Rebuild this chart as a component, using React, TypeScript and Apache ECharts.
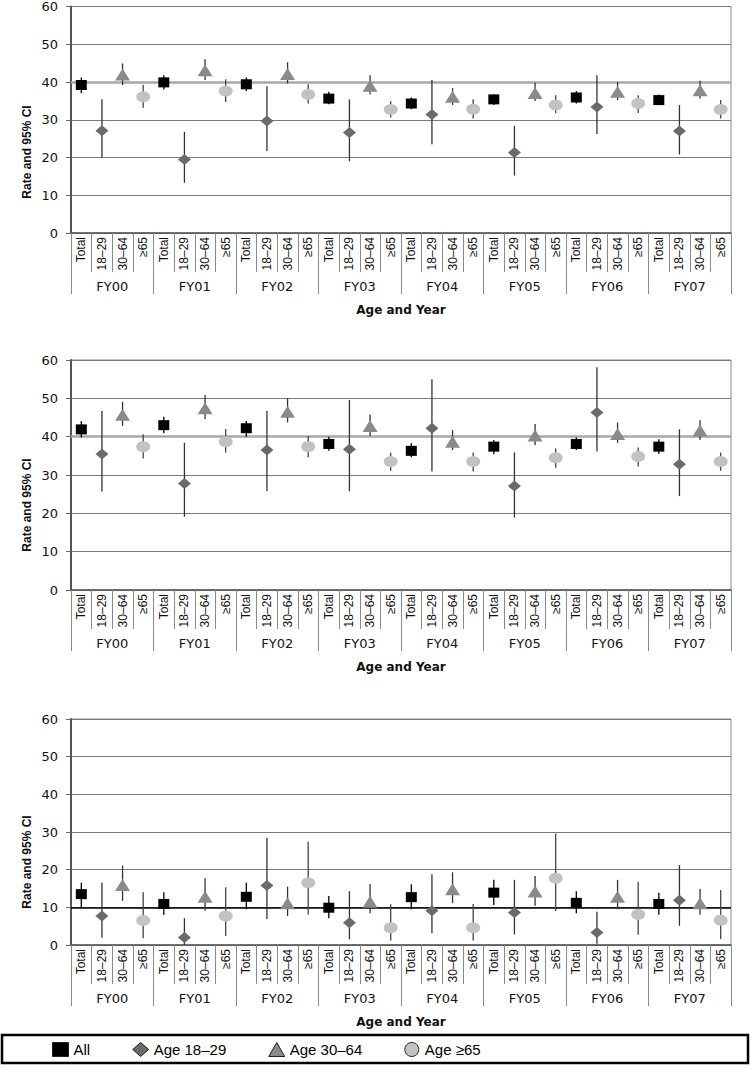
import React, { useEffect, useRef } from "react";
import * as echarts from "echarts";

const FY = ["FY00", "FY01", "FY02", "FY03", "FY04", "FY05", "FY06", "FY07"];
const AGE_CATS = ["Total", "18–29", "30–64", "≥65"];
const CATEGORIES = FY.flatMap(() => AGE_CATS);
const SERIES_NAMES = ["All", "Age 18–29", "Age 30–64", "Age ≥65"];
const Y_TICKS = [0, 10, 20, 30, 40, 50, 60];

// [rate, lower CI, upper CI] per fiscal year
const p1All = [[39.2, 37.0, 41.2], [39.9, 38.0, 41.8], [39.4, 37.6, 41.2], [35.6, 34.1, 37.4], [34.3, 32.8, 35.9], [35.4, 33.9, 36.7], [35.9, 34.3, 37.6], [35.2, 33.9, 36.7]];
const p1Young = [[27.1, 20.0, 35.4], [19.5, 13.3, 26.8], [29.7, 21.7, 38.9], [26.6, 19.0, 35.4], [31.4, 23.5, 40.5], [21.3, 15.2, 28.4], [33.4, 26.2, 41.8], [27.0, 20.8, 33.9]];
const p1Mid = [[42.0, 39.2, 44.9], [43.1, 40.5, 46.0], [42.1, 39.6, 45.2], [39.0, 36.7, 41.8], [36.1, 33.9, 38.4], [37.1, 35.0, 39.8], [37.4, 35.2, 40.0], [37.8, 35.6, 40.3]];
const p1Old = [[36.1, 33.2, 39.3], [37.6, 34.7, 40.7], [36.7, 34.3, 39.4], [32.7, 30.6, 34.9], [32.8, 30.3, 35.4], [33.9, 31.7, 36.5], [34.3, 31.8, 36.5], [32.7, 30.3, 35.2]];

const p2All = [[41.9, 39.8, 44.1], [43.0, 40.9, 45.2], [42.2, 40.0, 44.1], [38.1, 36.3, 40.0], [36.3, 34.6, 38.3], [37.4, 35.4, 39.1], [38.1, 36.5, 39.8], [37.4, 35.5, 39.3]];
const p2Young = [[35.5, 25.7, 46.7], [27.8, 19.1, 38.4], [36.5, 25.8, 46.7], [36.7, 25.8, 49.6], [42.2, 30.9, 55.0], [27.1, 18.9, 35.9], [46.3, 36.1, 58.1], [32.8, 24.5, 41.9]];
const p2Mid = [[45.7, 42.8, 49.1], [47.4, 44.6, 50.9], [46.5, 43.7, 50.0], [42.8, 40.2, 45.8], [38.7, 36.5, 41.7], [40.3, 37.8, 43.3], [40.7, 38.4, 43.7], [41.6, 39.1, 44.3]];
const p2Old = [[37.4, 34.3, 40.6], [38.7, 35.9, 42.0], [37.4, 34.6, 40.2], [33.5, 31.1, 35.8], [33.5, 30.9, 35.9], [34.5, 31.9, 37.0], [34.8, 32.2, 37.2], [33.5, 31.1, 35.9]];

const p3All = [[13.5, 10.0, 16.5], [10.9, 8.0, 14.0], [12.8, 9.5, 16.5], [9.9, 7.1, 13.0], [12.7, 9.5, 16.1], [13.9, 10.6, 17.3], [11.2, 8.4, 14.3], [10.9, 8.0, 13.9]];
const p3Young = [[7.7, 1.9, 16.6], [2.0, 0.0, 7.1], [15.8, 6.9, 28.5], [5.9, 1.5, 14.3], [9.1, 3.1, 18.8], [8.6, 2.8, 17.3], [3.3, 0.3, 8.8], [11.9, 5.1, 21.2]];
const p3Mid = [[15.9, 11.7, 21.1], [12.8, 9.1, 17.7], [11.1, 7.7, 15.5], [11.5, 8.4, 16.2], [14.8, 11.1, 19.3], [14.2, 10.4, 18.3], [12.8, 9.5, 17.3], [11.1, 8.0, 14.9]];
const p3Old = [[6.5, 1.8, 14.0], [7.7, 2.4, 15.3], [16.5, 8.1, 27.4], [4.6, 1.2, 10.8], [4.6, 1.2, 10.9], [17.7, 9.0, 29.6], [8.1, 2.7, 16.8], [6.6, 1.6, 14.6]];

// reference lines per panel
const REF_LINES = [40, 40, 10];

const PANELS = [
  [p1All, p1Young, p1Mid, p1Old],
  [p2All, p2Young, p2Mid, p2Old],
  [p3All, p3Young, p3Mid, p3Old],
];

const GRID_TOPS = [6, 360, 719];
const GRID_HEIGHTS = [227, 230, 226];
const Y_TITLE_CENTERS = [152, 505, 862];
const REF_STYLES = [
  { color: "#a8a8a8", width: 2.5 },
  { color: "#a8a8a8", width: 2.5 },
  { color: "#000000", width: 1.5 },
];

const SYMBOLS = ["rect", "diamond", "triangle", "circle"];
const SYMBOL_SIZES = [[11, 10], [13, 11], [15, 12], [14, 11]];
const COLORS = ["#000000", "#6a6a6a", "#8a8a8a", "#c2c2c2"];
const BAR_COLORS = ["#000000", "#333333", "#333333", "#444444"];

const LABEL_FONT = "'Liberation Sans', Arial, sans-serif";
const WIDE_FONT = "'DejaVu Sans', sans-serif";

function buildOption() {
  const grid: any[] = [];
  const xAxis: any[] = [];
  const yAxis: any[] = [];
  const series: any[] = [];
  const graphic: any[] = [];

  PANELS.forEach((panel, p) => {
    grid.push({
      left: 71,
      width: 660,
      top: GRID_TOPS[p],
      height: GRID_HEIGHTS[p],
      show: true,
      borderColor: "#8a8a8a",
      borderWidth: 1,
      backgroundColor: "transparent",
    });
    xAxis.push({
      type: "category",
      gridIndex: p,
      data: CATEGORIES,
      boundaryGap: true,
      position: "bottom",
      axisLine: { show: true, lineStyle: { color: "#555", width: 1.5 } },
      axisTick: { show: true, interval: 0, length: 39, lineStyle: { color: "#8a8a8a", width: 1 } },
      axisLabel: {
        interval: 0,
        rotate: 90,
        margin: 4,
        fontSize: 12,
        color: "#111",
        fontFamily: LABEL_FONT,
      },
      splitLine: { show: false },
    });
    xAxis.push({
      type: "category",
      gridIndex: p,
      data: FY,
      boundaryGap: true,
      position: "bottom",
      offset: 0,
      axisLine: { show: false },
      axisTick: { show: true, interval: 0, length: 61, lineStyle: { color: "#8a8a8a", width: 1 } },
      axisLabel: { interval: 0, margin: 47, fontSize: 13, color: "#111", fontFamily: WIDE_FONT },
      splitLine: { show: false },
      name: "Age and Year",
      nameLocation: "middle",
      nameGap: 71,
      nameTextStyle: { fontSize: 12, fontWeight: "bold", color: "#111", fontFamily: WIDE_FONT },
    });
    yAxis.push({
      type: "value",
      gridIndex: p,
      min: Y_TICKS[0],
      max: Y_TICKS[Y_TICKS.length - 1],
      interval: 10,
      axisLine: { show: true, lineStyle: { color: "#555", width: 2 } },
      axisTick: { show: true, length: 5, lineStyle: { color: "#666" } },
      axisLabel: { margin: 13, fontSize: 13, color: "#111", fontFamily: WIDE_FONT },
      splitLine: { show: true, lineStyle: { color: "#7a7a7a", width: 1 } },
    });

    panel.forEach((rows, g) => {
      const barData = rows.map((r, f) => [f * 4 + g, r[1], r[2]]);
      const color = BAR_COLORS[g];
      const errSeries: any = {
        type: "custom",
        name: "ci-" + p + "-" + g,
        xAxisIndex: p * 2,
        yAxisIndex: p,
        z: 6,
        silent: true,
        data: barData,
        encode: { x: 0, y: [1, 2] },
        renderItem: (params: any, api: any) => {
          const x = api.value(0);
          const lo = api.coord([x, api.value(1)]);
          const hi = api.coord([x, api.value(2)]);
          return {
            type: "line",
            shape: { x1: lo[0], y1: lo[1], x2: hi[0], y2: hi[1] },
            style: { stroke: color, lineWidth: 1.3 },
          };
        },
      };
      if (g === 0) {
        errSeries.markLine = {
          silent: true,
          symbol: ["none", "none"],
          label: { show: false },
          lineStyle: { type: "solid", color: REF_STYLES[p].color, width: REF_STYLES[p].width, opacity: 1 },
          emphasis: { disabled: true },
          data: [{ yAxis: REF_LINES[p] }],
        };
      }
      series.push(errSeries);
      series.push({
        type: "scatter",
        name: SERIES_NAMES[g],
        xAxisIndex: p * 2,
        yAxisIndex: p,
        z: 10,
        symbol: SYMBOLS[g],
        symbolSize: SYMBOL_SIZES[g],
        itemStyle: { color: COLORS[g], opacity: 1 },
        data: rows.map((r, f) => [f * 4 + g, r[0]]),
      });
    });

    graphic.push({
      type: "text",
      x: 27,
      y: Y_TITLE_CENTERS[p],
      rotation: Math.PI / 2,
      style: {
        text: "Rate and 95% CI",
        fontSize: 12,
        fontWeight: "bold",
        fontFamily: "'Liberation Sans Narrow', 'Liberation Sans', Arial, sans-serif",
        fill: "#111",
        align: "center",
        verticalAlign: "middle",
      },
    });
  });

  graphic.push({
    type: "rect",
    shape: { x: 2, y: 1035, width: 746, height: 28 },
    style: { fill: "none", stroke: "#000", lineWidth: 2.5 },
    z: 0,
  });

  return {
    animation: false,
    backgroundColor: "#fff",
    grid,
    xAxis,
    yAxis,
    series,
    graphic,
    legend: {
      data: SERIES_NAMES,
      left: 52,
      top: 1042,
      padding: 0,
      itemWidth: 16,
      itemHeight: 14,
      itemGap: 42,
      selectedMode: false,
      itemStyle: { borderColor: "#222", borderWidth: 1 },
      textStyle: {
        fontSize: 15,
        color: "#000",
        fontFamily: "'Liberation Sans Narrow', 'Liberation Sans', Arial, sans-serif",
      },
    },
  };
}

export default function App() {
  const ref = useRef<HTMLDivElement>(null);
  useEffect(() => {
    if (!ref.current) return;
    const chart = echarts.init(ref.current, null, { renderer: "svg" });
    chart.setOption(buildOption() as any);
    return () => chart.dispose();
  }, []);
  return (
    <div
      ref={ref}
      style={{ position: "absolute", left: 0, top: 0, width: 751, height: 1068, background: "#fff" }}
    />
  );
}
